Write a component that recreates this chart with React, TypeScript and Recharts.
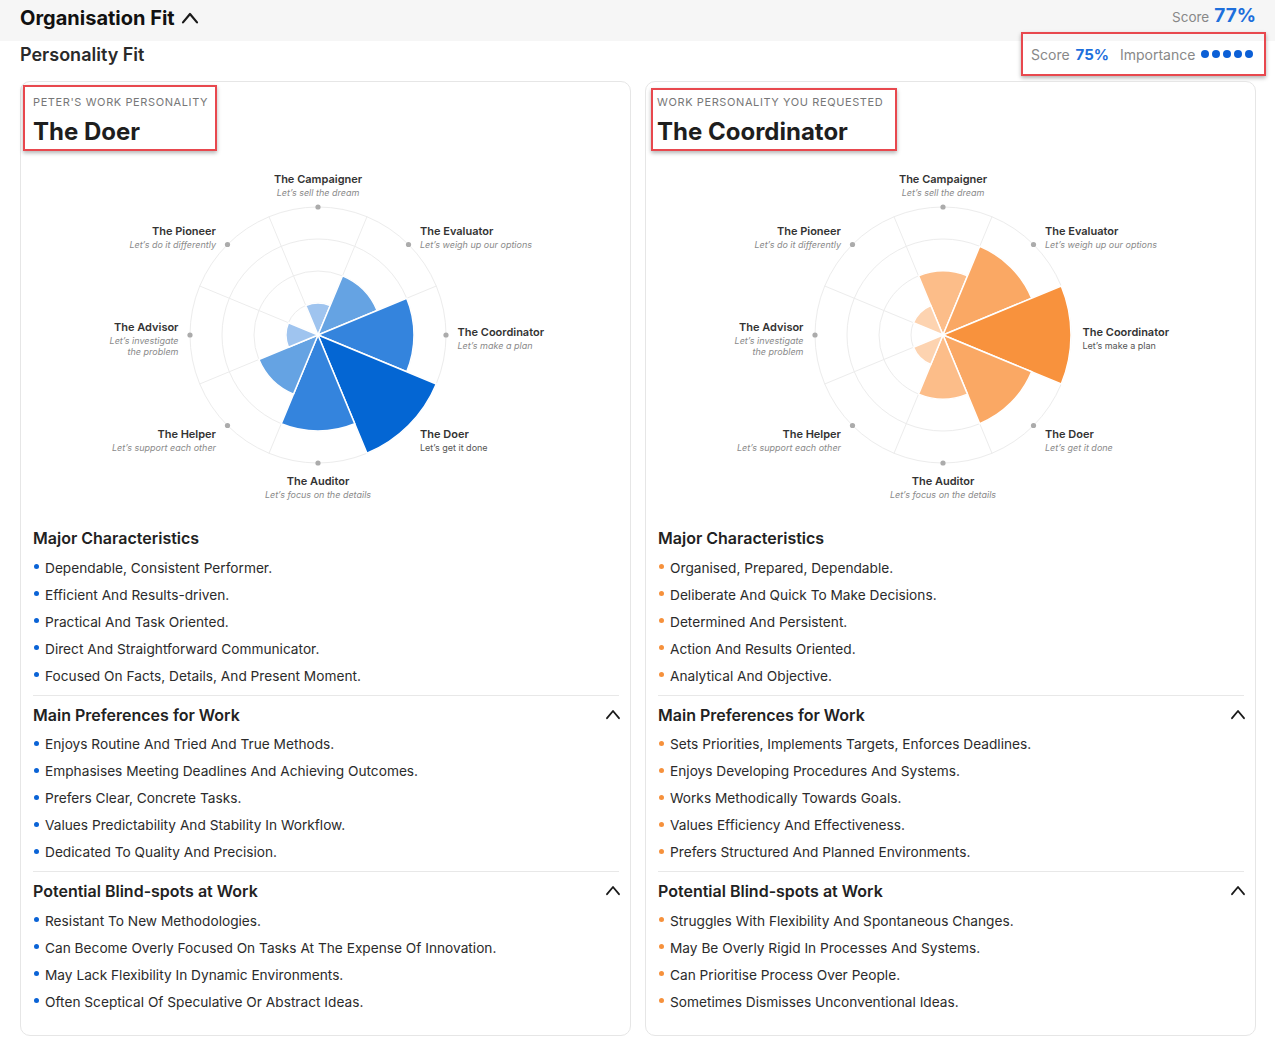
import React from "react";
import {
  Cell,
  PolarAngleAxis,
  PolarGrid,
  PolarRadiusAxis,
  RadialBar,
  RadialBarChart,
} from "recharts";

const personalities = [
  "The Campaigner",
  "The Evaluator",
  "The Coordinator",
  "The Doer",
  "The Auditor",
  "The Helper",
  "The Advisor",
  "The Pioneer",
];
const mottos = [
  ["Let’s sell the dream"],
  ["Let’s weigh up our options"],
  ["Let’s make a plan"],
  ["Let’s get it done"],
  ["Let’s focus on the details"],
  ["Let’s support each other"],
  ["Let’s investigate", "the problem"],
  ["Let’s do it differently"],
];
const peterScores = [1, 2, 3, 4, 3, 2, 1, 0];
const requestedScores = [2, 3, 4, 3, 2, 1, 0, 1];
const maxScore = 4;
const ringLevels = [1, 2, 3, 4];

const blueShades = ["#ffffff", "#9fc4ef", "#65a3e3", "#3484dd", "#0466d3"];
const orangeShades = ["#ffffff", "#fdd3b0", "#fcbd89", "#faa864", "#f8923d"];

const peterCharacteristics = [
  "Dependable, Consistent Performer.",
  "Efficient And Results-driven.",
  "Practical And Task Oriented.",
  "Direct And Straightforward Communicator.",
  "Focused On Facts, Details, And Present Moment.",
];
const peterPreferences = [
  "Enjoys Routine And Tried And True Methods.",
  "Emphasises Meeting Deadlines And Achieving Outcomes.",
  "Prefers Clear, Concrete Tasks.",
  "Values Predictability And Stability In Workflow.",
  "Dedicated To Quality And Precision.",
];
const peterBlindSpots = [
  "Resistant To New Methodologies.",
  "Can Become Overly Focused On Tasks At The Expense Of Innovation.",
  "May Lack Flexibility In Dynamic Environments.",
  "Often Sceptical Of Speculative Or Abstract Ideas.",
];
const requestedCharacteristics = [
  "Organised, Prepared, Dependable.",
  "Deliberate And Quick To Make Decisions.",
  "Determined And Persistent.",
  "Action And Results Oriented.",
  "Analytical And Objective.",
];
const requestedPreferences = [
  "Sets Priorities, Implements Targets, Enforces Deadlines.",
  "Enjoys Developing Procedures And Systems.",
  "Works Methodically Towards Goals.",
  "Values Efficiency And Effectiveness.",
  "Prefers Structured And Planned Environments.",
];
const requestedBlindSpots = [
  "Struggles With Flexibility And Spontaneous Changes.",
  "May Be Overly Rigid In Processes And Systems.",
  "Can Prioritise Process Over People.",
  "Sometimes Dismisses Unconventional Ideas.",
];

const overallScore = "77%";
const personalityScore = "75%";
const importanceLevel = 5;

const OUTER = 128;
const FONT = "Inter, 'Noto Sans', sans-serif";
// half of one category band, ticks sit at the band start
const HALF_BAND = 180 / personalities.length;

function makeTick(scores: number[], current: string) {
  return function AngleTick(props: any) {
    const { x, y, payload } = props;
    const radius = typeof props.radius === "number" ? props.radius : OUTER;
    const a0 = (payload.coordinate * Math.PI) / 180;
    const ccx = typeof props.cx === "number" ? props.cx : x - radius * Math.cos(a0);
    const ccy = typeof props.cy === "number" ? props.cy : y + radius * Math.sin(a0);
    const a1 = ((payload.coordinate + HALF_BAND) * Math.PI) / 180;
    const c = Math.cos(a1);
    const s = Math.sin(a1);
    const px = ccx + radius * c;
    const py = ccy - radius * s;
    const i = personalities.indexOf(payload.value);
    const lines = mottos[i] || [];
    let anchor: "start" | "middle" | "end" = "middle";
    let tx = px;
    if (c > 0.3) {
      anchor = "start";
      tx = px + 11.5;
    } else if (c < -0.3) {
      anchor = "end";
      tx = px - 11.5;
    }
    let nameY: number;
    if (s > 0.9) nameY = py - 28;
    else if (s > 0.3) nameY = py - 13.5;
    else if (s > -0.3) nameY = py - 3 - (lines.length - 1) * 5;
    else if (s > -0.9) nameY = py + 8.5;
    else nameY = py + 18;
    const isCurrent = payload.value === current;
    return (
      <g fontFamily={FONT}>
        {scores[i] < maxScore && <circle cx={px} cy={py} r={2.6} fill="#ababab" />}
        <text
          x={tx}
          y={nameY}
          textAnchor={anchor}
          dominantBaseline="central"
          fontSize={11}
          fontWeight={600}
          fill="#333"
        >
          {payload.value}
        </text>
        {lines.map((l, k) => (
          <text
            key={k}
            x={tx}
            y={nameY + 13.5 + k * 11}
            textAnchor={anchor}
            dominantBaseline="central"
            fontSize={9}
            fontStyle={isCurrent ? "normal" : "italic"}
            fill={isCurrent ? "#555" : "#8a8a8a"}
          >
            {l}
          </text>
        ))}
      </g>
    );
  };
}

function PersonalityRose({
  scores,
  shades,
  current,
}: {
  scores: number[];
  shades: string[];
  current: string;
}) {
  const data = personalities.map((name, i) => ({ name, score: scores[i] }));
  const step = OUTER / maxScore;
  return (
    <RadialBarChart
      width={594}
      height={340}
      data={data}
      cx={297}
      cy={170}
      innerRadius={0}
      outerRadius={OUTER}
      startAngle={90 - HALF_BAND}
      endAngle={90 - HALF_BAND - 360}
      layout="centric"
      barCategoryGap={0}
      barGap={0}
      margin={{ top: 0, right: 0, bottom: 0, left: 0 }}
    >
      <PolarGrid
        gridType="circle"
        polarRadius={ringLevels.map((l) => l * step)}
        polarAngles={personalities.map((_, i) => HALF_BAND + i * 2 * HALF_BAND)}
        stroke="#ececec"
      />
      <PolarAngleAxis
        type="category"
        dataKey="name"
        tickLine={false}
        axisLine={false}
        tickSize={0}
        tick={makeTick(scores, current)}
      />
      <PolarRadiusAxis type="number" domain={[0, maxScore]} tick={false} axisLine={false} />
      <RadialBar dataKey="score" isAnimationActive={false} stroke="#ffffff" strokeWidth={1.5}>
        {data.map((d, i) => (
          <Cell key={i} fill={shades[d.score]} />
        ))}
      </RadialBar>
    </RadialBarChart>
  );
}

function Chevron({ size = 12, weight = 2 }: { size?: number; weight?: number }) {
  return (
    <svg width={size + 4} height={size * 0.6 + 4} style={{ display: "block" }}>
      <polyline
        points={`2,${size * 0.6 + 2} ${size / 2 + 2},2 ${size + 2},${size * 0.6 + 2}`}
        fill="none"
        stroke="#1a1a1a"
        strokeWidth={weight}
        strokeLinecap="round"
        strokeLinejoin="round"
      />
    </svg>
  );
}

function Section({
  title,
  items,
  bullet,
  first,
  last,
  collapsible,
}: {
  title: string;
  items: string[];
  bullet: string;
  first?: boolean;
  last?: boolean;
  collapsible?: boolean;
}) {
  return (
    <div
      style={{
        paddingTop: first ? 0 : 6,
        paddingBottom: last ? 0 : 5.5,
        borderBottom: last ? "none" : "1px solid #e8e8e8",
      }}
    >
      <div
        style={{
          display: "flex",
          justifyContent: "space-between",
          alignItems: "center",
          height: 26,
          fontSize: 16,
          fontWeight: 600,
          color: "#222",
        }}
      >
        <span>{title}</span>
        {collapsible && (
          <span style={{ marginRight: -2 }}>
            <Chevron size={12} weight={1.8} />
          </span>
        )}
      </div>
      <div style={{ marginTop: 3 }}>
        {items.map((t) => (
          <div
            key={t}
            style={{
              height: 27,
              display: "flex",
              alignItems: "center",
              fontSize: 13.7,
              color: "#2b2b2b",
            }}
          >
            <span
              style={{
                width: 5,
                height: 5,
                borderRadius: "50%",
                background: bullet,
                marginLeft: 1,
                marginRight: 6,
                marginTop: -2,
                flex: "none",
              }}
            />
            {t}
          </div>
        ))}
      </div>
    </div>
  );
}

function PersonalityCard({
  left,
  kicker,
  title,
  box,
  scores,
  shades,
  bullet,
  characteristics,
  preferences,
  blindSpots,
}: {
  left: number;
  kicker: string;
  title: string;
  box: { left: number; top: number; width: number; height: number; textLeft: number };
  scores: number[];
  shades: string[];
  bullet: string;
  characteristics: string[];
  preferences: string[];
  blindSpots: string[];
}) {
  return (
    <div
      style={{
        position: "absolute",
        left,
        top: 81,
        width: 611,
        height: 955,
        boxSizing: "border-box",
        border: "1px solid #e6e6e6",
        borderRadius: 10,
        background: "#fff",
      }}
    >
      <div
        style={{
          position: "absolute",
          left: box.textLeft,
          top: 13,
          fontSize: 11,
          lineHeight: "14px",
          letterSpacing: 0.6,
          color: "#777",
          whiteSpace: "nowrap",
        }}
      >
        {kicker}
      </div>
      <div
        style={{
          position: "absolute",
          left: box.textLeft,
          top: 35,
          fontSize: 24,
          lineHeight: "30px",
          fontWeight: 700,
          color: "#1e1e1e",
          whiteSpace: "nowrap",
        }}
      >
        {title}
      </div>
      <div
        style={{
          position: "absolute",
          left: box.left,
          top: box.top,
          width: box.width,
          height: box.height,
          boxSizing: "border-box",
          border: "2px solid #e8484e",
          boxShadow: "0 2px 4px rgba(0,0,0,0.3)",
        }}
      />
      <div style={{ position: "absolute", left: 0, top: 83 }}>
        <PersonalityRose scores={scores} shades={shades} current={title} />
      </div>
      <div style={{ position: "absolute", left: 12, right: 11, top: 443 }}>
        <Section title="Major Characteristics" items={characteristics} bullet={bullet} first />
        <Section title="Main Preferences for Work" items={preferences} bullet={bullet} collapsible />
        <Section title="Potential Blind-spots at Work" items={blindSpots} bullet={bullet} collapsible last />
      </div>
    </div>
  );
}

export default function App() {
  return (
    <div
      style={{
        position: "relative",
        width: 1275,
        height: 1046,
        background: "#fff",
        fontFamily: FONT,
        overflow: "hidden",
      }}
    >
      <style>{"body{margin:0}"}</style>
      <div
        style={{
          position: "absolute",
          left: 0,
          top: 0,
          width: 1275,
          height: 41,
          background: "#f6f6f6",
        }}
      />
      <div
        style={{
          position: "absolute",
          left: 20,
          top: 4,
          height: 28,
          display: "flex",
          alignItems: "center",
          fontSize: 20,
          fontWeight: 700,
          color: "#111",
        }}
      >
        Organisation Fit
        <span style={{ marginLeft: 6 }}>
          <Chevron size={14} weight={2.2} />
        </span>
      </div>
      <div
        style={{
          position: "absolute",
          right: 19,
          top: 4,
          height: 28,
          display: "flex",
          alignItems: "baseline",
        }}
      >
        <span style={{ fontSize: 13.5, color: "#888", marginRight: 5 }}>Score</span>
        <span style={{ fontSize: 19, fontWeight: 700, color: "#1d6fdc" }}>{overallScore}</span>
      </div>
      <div
        style={{
          position: "absolute",
          left: 20,
          top: 43,
          height: 24,
          lineHeight: "24px",
          fontSize: 18,
          fontWeight: 600,
          color: "#2a2a2a",
        }}
      >
        Personality Fit
      </div>
      <div
        style={{
          position: "absolute",
          left: 1021,
          top: 32,
          width: 245,
          height: 44,
          boxSizing: "border-box",
          border: "2px solid #e8484e",
          boxShadow: "0 2px 4px rgba(0,0,0,0.3)",
          display: "flex",
          alignItems: "center",
          paddingLeft: 8,
        }}
      >
        <span style={{ fontSize: 14, color: "#888", marginRight: 6 }}>Score</span>
        <span style={{ fontSize: 15, fontWeight: 700, color: "#1d6fdc", marginRight: 11 }}>
          {personalityScore}
        </span>
        <span style={{ fontSize: 14, color: "#888", marginRight: 6 }}>Importance</span>
        {Array.from({ length: importanceLevel }).map((_, i) => (
          <span
            key={i}
            style={{
              width: 8,
              height: 8,
              borderRadius: "50%",
              background: "#0b5fd6",
              marginRight: 3,
              display: "inline-block",
            }}
          />
        ))}
      </div>
      <PersonalityCard
        left={20}
        kicker="PETER'S WORK PERSONALITY"
        title="The Doer"
        box={{ left: 2, top: 3, width: 194, height: 66, textLeft: 12 }}
        scores={peterScores}
        shades={blueShades}
        bullet="#0a63d6"
        characteristics={peterCharacteristics}
        preferences={peterPreferences}
        blindSpots={peterBlindSpots}
      />
      <PersonalityCard
        left={645}
        kicker="WORK PERSONALITY YOU REQUESTED"
        title="The Coordinator"
        box={{ left: 5, top: 6, width: 246, height: 63, textLeft: 11 }}
        scores={requestedScores}
        shades={orangeShades}
        bullet="#f6913c"
        characteristics={requestedCharacteristics}
        preferences={requestedPreferences}
        blindSpots={requestedBlindSpots}
      />
    </div>
  );
}
